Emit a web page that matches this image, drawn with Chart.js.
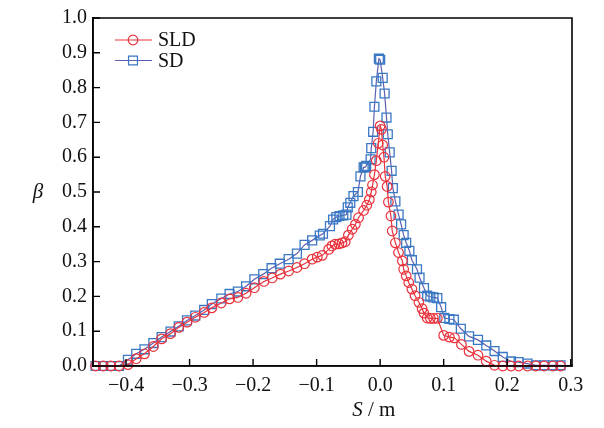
<!DOCTYPE html>
<html lang="zh">

<head>
    <meta charset="UTF-8">
    <title>SLD / SD</title>
    <script src="https://cdn.jsdelivr.net/npm/chart.js"></script>
    <style>
        body { margin: 0; background: #fff; }
        .grafico { width: 604px; height: 428px; }
    </style>
</head>

<body>
    <div class="grafico">
        <canvas id="myChart"></canvas>
    </div>

<script>
    // dados
    const sldX = [-0.448, -0.436, -0.424, -0.411, -0.397, -0.384, -0.371, -0.357, -0.344, -0.330, -0.317, -0.304,
        -0.291, -0.277, -0.265, -0.250, -0.237, -0.224, -0.211, -0.198, -0.183, -0.170, -0.157, -0.144, -0.131,
        -0.119, -0.107, -0.099, -0.091, -0.081, -0.076, -0.071, -0.065, -0.060, -0.055, -0.050, -0.044, -0.039,
        -0.034, -0.026, -0.021, -0.017, -0.014, -0.012, -0.009, -0.006, -0.003, 0.000, 0.002, 0.004, 0.006,
        0.008, 0.011, 0.013, 0.017, 0.019, 0.024, 0.029, 0.035, 0.037, 0.041, 0.045, 0.050, 0.055, 0.061,
        0.066, 0.069, 0.074, 0.079, 0.084, 0.090, 0.100, 0.109, 0.117, 0.128, 0.140, 0.154, 0.167, 0.180,
        0.193, 0.206, 0.218, 0.232, 0.245, 0.258, 0.272, 0.284];
    const sldY = [0, 0, 0, 0, 0.004, 0.021, 0.035, 0.056, 0.078, 0.093, 0.111, 0.126,
        0.140, 0.154, 0.167, 0.181, 0.193, 0.197, 0.209, 0.225, 0.243, 0.253, 0.264, 0.273, 0.283,
        0.294, 0.307, 0.313, 0.318, 0.335, 0.345, 0.350, 0.351, 0.354, 0.357, 0.376, 0.393, 0.407,
        0.426, 0.447, 0.462, 0.478, 0.500, 0.520, 0.550, 0.590, 0.640, 0.690, 0.680, 0.635, 0.600,
        0.545, 0.516, 0.471, 0.431, 0.388, 0.354, 0.326, 0.302, 0.278, 0.259, 0.240, 0.221, 0.202, 0.183,
        0.165, 0.152, 0.138, 0.137, 0.137, 0.137, 0.088, 0.083, 0.081, 0.062, 0.042, 0.031, 0.014, 0.002,
        0, 0, 0, 0, 0, 0, 0, 0];

    const sdX = [-0.448, -0.436, -0.424, -0.411, -0.397, -0.384, -0.371, -0.357, -0.344, -0.330, -0.317, -0.304,
        -0.291, -0.277, -0.265, -0.250, -0.237, -0.224, -0.211, -0.198, -0.184, -0.171, -0.158, -0.144, -0.131,
        -0.119, -0.107, -0.095, -0.090, -0.079, -0.074, -0.069, -0.064, -0.058, -0.053, -0.051, -0.047, -0.042,
        -0.035, -0.031, -0.026, -0.024, -0.022, -0.015, -0.014, -0.011, -0.009, -0.006, -0.002, 0.000, 0.004,
        0.007, 0.010, 0.012, 0.015, 0.018, 0.020, 0.024, 0.029, 0.033, 0.037, 0.041, 0.046, 0.050, 0.058,
        0.062, 0.069, 0.074, 0.079, 0.084, 0.090, 0.096, 0.101, 0.109, 0.116, 0.127, 0.140, 0.154, 0.167,
        0.180, 0.193, 0.206, 0.218, 0.232, 0.245, 0.258, 0.272, 0.284];
    const sdY = [0, 0, 0, 0, 0.018, 0.035, 0.048, 0.066, 0.083, 0.099, 0.114, 0.131,
        0.145, 0.161, 0.178, 0.194, 0.207, 0.214, 0.229, 0.249, 0.264, 0.281, 0.294, 0.307, 0.323,
        0.348, 0.361, 0.375, 0.380, 0.402, 0.421, 0.428, 0.431, 0.433, 0.435, 0.456, 0.469, 0.488,
        0.500, 0.545, 0.571, 0.571, 0.575, 0.594, 0.626, 0.673, 0.745, 0.818, 0.883, 0.880, 0.828,
        0.783, 0.714, 0.666, 0.614, 0.561, 0.511, 0.473, 0.435, 0.407, 0.376, 0.354, 0.331, 0.304, 0.278,
        0.254, 0.224, 0.202, 0.199, 0.197, 0.195, 0.169, 0.138, 0.135, 0.133, 0.107, 0.085, 0.075, 0.059,
        0.043, 0.026, 0.013, 0.011, 0.007, 0.002, 0.002, 0.002, 0.002];

    const xTicks = [-0.4, -0.3, -0.2, -0.1, 0.0, 0.1, 0.2, 0.3];
    const yTicks = [0.0, 0.1, 0.2, 0.3, 0.4, 0.5, 0.6, 0.7, 0.8, 0.9, 1.0];
    const nomes = ['SLD', 'SD'];

    const fonte = '"Liberation Serif", "DejaVu Serif", serif';

    function pontos(xs, ys) {
        let lista = [];
        for (let i = 0; i < xs.length; i++) {
            lista.push({ x: xs[i], y: ys[i] });
        }
        return lista;
    }

    function marcador(c, estilo, x, y, r) {
        c.beginPath();
        if (estilo == 'rect') {
            const s = Math.SQRT1_2 * r;
            c.rect(x - s, y - s, 2 * s, 2 * s);
        } else {
            c.arc(x, y, r, 0, Math.PI * 2);
        }
        c.stroke();
    }

    // moldura, ticks para dentro, legenda e titulos
    const extras = {
        id: 'extras',
        afterDraw(chart) {
            const c = chart.ctx;
            const a = chart.chartArea;
            const sx = chart.scales.x;
            const sy = chart.scales.y;
            c.save();
            c.globalAlpha = 1;
            c.setLineDash([]);
            c.strokeStyle = 'black';
            c.lineWidth = 1.6;
            c.beginPath();
            c.moveTo(a.left, a.top);
            c.lineTo(a.right, a.top);
            c.lineTo(a.right, a.bottom);
            c.lineTo(a.left, a.bottom);
            c.closePath();
            c.stroke();

            c.lineWidth = 1.4;
            c.beginPath();
            xTicks.forEach(function (v) {
                const px = sx.getPixelForValue(v);
                c.moveTo(px, a.bottom);
                c.lineTo(px, a.bottom - 7);
            });
            yTicks.forEach(function (v) {
                const py = sy.getPixelForValue(v);
                c.moveTo(a.left, py);
                c.lineTo(a.left + 7, py);
            });
            c.stroke();

            // legenda
            chart.data.datasets.forEach(function (ds, i) {
                const ly = a.top + 22 + i * 20.5;
                const lx = a.left + 22;
                c.strokeStyle = ds.borderColor;
                c.lineWidth = 1.2;
                c.beginPath();
                c.moveTo(lx, ly);
                c.lineTo(lx + 37, ly);
                c.stroke();
                c.strokeStyle = ds.pointBorderColor;
                marcador(c, ds.pointStyle, lx + 18, ly, ds.pointRadius);
                c.fillStyle = '#111';
                c.font = '20px ' + fonte;
                c.textAlign = 'left';
                c.textBaseline = 'middle';
                c.fillText(ds.label, lx + 43, ly + 1);
            });

            // titulos dos eixos
            c.fillStyle = '#111';
            c.textBaseline = 'middle';
            c.textAlign = 'left';
            const x0 = sx.getPixelForValue(0) - 28;
            c.font = 'italic 21px ' + fonte;
            const wS = c.measureText('S').width;
            c.fillText('S', x0, 410);
            c.font = '21px ' + fonte;
            c.fillText(' / m', x0 + wS, 410);

            c.font = 'italic 21px ' + fonte;
            c.textAlign = 'center';
            c.fillText('β', 38, (a.top + a.bottom) / 2);
            c.restore();
        }
    };

    const ctx = document.getElementById('myChart');

    new Chart(ctx, {
        type: 'scatter',
        data: {
            datasets: [{
                label: nomes[0],
                data: pontos(sldX, sldY),
                showLine: true,
                borderColor: '#e8323c',
                borderWidth: 1.2,
                pointStyle: 'circle',
                pointRadius: 4.8,
                pointBorderWidth: 1.2,
                pointBorderColor: '#e8323c',
                pointBackgroundColor: 'rgba(0,0,0,0)'
            }, {
                label: nomes[1],
                data: pontos(sdX, sdY),
                showLine: true,
                borderColor: '#5c5fb0',
                borderWidth: 1.2,
                pointStyle: 'rect',
                pointRadius: 6.3,
                pointBorderWidth: 1.3,
                pointBorderColor: '#3a78c4',
                pointBackgroundColor: 'rgba(0,0,0,0)'
            }]
        },
        options: {
            responsive: true,
            maintainAspectRatio: false,
            animation: false,
            clip: false,
            layout: { padding: { top: 16, right: 32, left: 0, bottom: 0 } },
            plugins: {
                legend: { display: false },
                tooltip: { enabled: false }
            },
            scales: {
                x: {
                    type: 'linear',
                    min: -0.452,
                    max: 0.302,
                    afterBuildTicks: function (s) { s.ticks = xTicks.map(v => ({ value: v })); },
                    afterFit: function (s) { s.height = 62; },
                    grid: { display: false, drawTicks: false },
                    border: { display: true, color: '#111', width: 1.6 },
                    ticks: {
                        color: '#111',
                        padding: 8,
                        maxRotation: 0,
                        font: { family: fonte, size: 20 },
                        callback: v => v.toFixed(1).replace('-', '\u2212')
                    }
                },
                y: {
                    type: 'linear',
                    min: 0,
                    max: 1.0,
                    afterBuildTicks: function (s) { s.ticks = yTicks.map(v => ({ value: v })); },
                    afterFit: function (s) { s.width = 93; },
                    grid: { display: false, drawTicks: false },
                    border: { display: true, color: '#111', width: 1.6 },
                    ticks: {
                        color: '#111',
                        padding: 6,
                        font: { family: fonte, size: 20 },
                        callback: v => v.toFixed(1)
                    }
                }
            }
        },
        plugins: [extras]
    });
</script>
</body>

</html>
